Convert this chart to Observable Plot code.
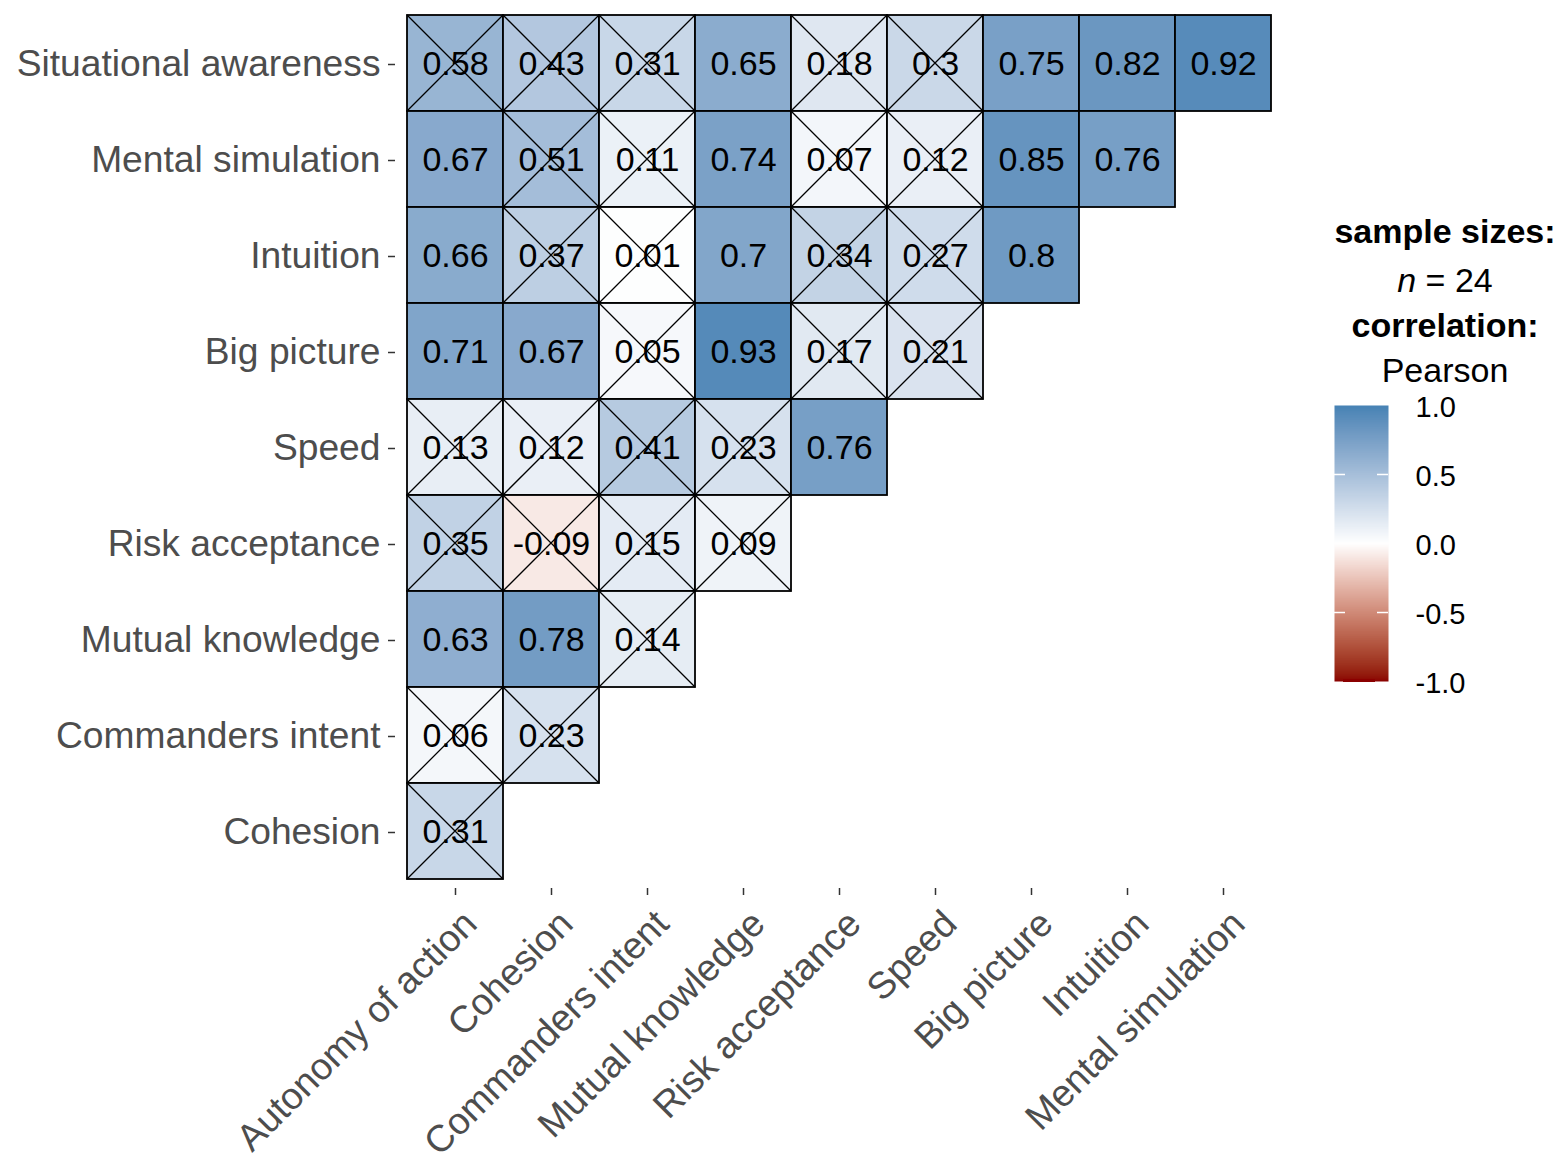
<!DOCTYPE html>
<html>
<head>
<meta charset="utf-8">
<script src="https://cdn.jsdelivr.net/npm/d3@7"></script>
<script src="https://cdn.jsdelivr.net/npm/@observablehq/plot@0.6"></script>
<style>
  html, body { margin: 0; padding: 0; background: #fff; }
  #wrap { position: relative; width: 1561px; height: 1156px; font-family: "Liberation Sans", Arial, sans-serif; }
  #main { position: absolute; left: 0; top: 0; }
  .lg { position: absolute; left: 1300px; width: 290px; text-align: center; font-size: 34px; color: #000; white-space: nowrap; line-height: 1; }
  #bar { position: absolute; left: 1334px; top: 390px; }
</style>
</head>
<body>
<div id="wrap">
  <div id="main"></div>
  <div class="lg" style="top:214px;font-weight:bold;">sample sizes:</div>
  <div class="lg" style="top:263px;"><i>n</i> = 24</div>
  <div class="lg" style="top:308px;font-weight:bold;">correlation:</div>
  <div class="lg" style="top:353px;">Pearson</div>
  <div id="bar"></div>
</div>
<script>
// ---- data ----
const columns = ["Autonomy of action", "Cohesion", "Commanders intent", "Mutual knowledge", "Risk acceptance", "Speed", "Big picture", "Intuition", "Mental simulation"];
const rows = ["Situational awareness", "Mental simulation", "Intuition", "Big picture", "Speed", "Risk acceptance", "Mutual knowledge", "Commanders intent", "Cohesion"];
const correlations = [
  [0.58, 0.43, 0.31, 0.65, 0.18, 0.3, 0.75, 0.82, 0.92],
  [0.67, 0.51, 0.11, 0.74, 0.07, 0.12, 0.85, 0.76],
  [0.66, 0.37, 0.01, 0.7, 0.34, 0.27, 0.8],
  [0.71, 0.67, 0.05, 0.93, 0.17, 0.21],
  [0.13, 0.12, 0.41, 0.23, 0.76],
  [0.35, -0.09, 0.15, 0.09],
  [0.63, 0.78, 0.14],
  [0.06, 0.23],
  [0.31]
];
// 1 = not significant (crossed out)
const nonSignificant = [
  [1, 1, 1, 0, 1, 1, 0, 0, 0],
  [0, 1, 1, 0, 1, 1, 0, 0],
  [0, 1, 1, 0, 1, 1, 0],
  [0, 0, 1, 0, 1, 1],
  [1, 1, 1, 1, 0],
  [1, 1, 1, 1],
  [0, 0, 1],
  [1, 1],
  [1]
];
const legendTicks = [-1, -0.5, 0, 0.5, 1];
const legendTickMarks = [-0.5, 0.5];
const legendEnd = [-1];

// ---- table ----
const cells = [];
rows.forEach((r, i) => correlations[i].forEach((v, j) => {
  cells.push({row: r, col: columns[j], r: v, crossed: nonSignificant[i][j] === 1});
}));

const colorScale = {type: "linear", domain: [-1, 0, 1], range: ["darkred", "white", "steelblue"], interpolate: "lab"};
const font = "'Liberation Sans', Arial, sans-serif";

function crosses(index, scales, values, dimensions, context) {
  const g = d3.create("svg:g");
  const bx = scales.x.bandwidth(), by = scales.y.bandwidth();
  for (const d of cells.filter(c => c.crossed)) {
    const x0 = scales.x(d.col), y0 = scales.y(d.row);
    g.append("path")
      .attr("d", `M${x0},${y0}L${x0 + bx},${y0 + by}M${x0 + bx},${y0}L${x0},${y0 + by}`)
      .attr("stroke", "#000").attr("stroke-width", 1.3).attr("fill", "none");
  }
  return g.node();
}

const main = Plot.plot({
  width: 1561,
  height: 1156,
  marginLeft: 395, insetLeft: 10,
  marginRight: 278, insetRight: 10,
  marginTop: 5, insetTop: 9,
  marginBottom: 268, insetBottom: 8,
  style: {fontFamily: font, background: "white"},
  x: {type: "band", domain: columns, padding: 0, label: null},
  y: {type: "band", domain: rows, padding: 0, label: null},
  color: colorScale,
  marks: [
    Plot.cell(cells, {x: "col", y: "row", fill: "r", stroke: "#000", strokeWidth: 1.8}),
    Plot.text(cells, {x: "col", y: "row", text: d => String(d.r), fill: "#000", fontSize: 34, dy: 1}),
    crosses,
    Plot.axisY({anchor: "left", tickSize: 7, tickPadding: 8, fontSize: 37.2, fill: "#4D4D4D", stroke: "#333", strokeWidth: 1.5, label: null, dy: 1}),
    Plot.axisX({anchor: "bottom", tickSize: 7, tickPadding: 8, tickRotate: -45, fontSize: 37.5, fill: "#4D4D4D", stroke: "#333", strokeWidth: 1.5, label: null, textStroke: null}),
  ]
});
document.getElementById("main").appendChild(main);
// shift the rotated x tick labels to match the reference placement
{
  const svg = d3.select(main);
  svg.selectAll("g[aria-label='x-axis tick label']").attr("transform", function() {
    const t = this.getAttribute("transform") || "";
    return `translate(15,14) ${t}`;
  });
}

// ---- colour bar legend ----
const bar = Plot.plot({
  width: 140,
  height: 306,
  marginLeft: 0, marginRight: 86, marginTop: 15, marginBottom: 15,
  style: {fontFamily: font, background: "transparent", overflow: "visible"},
  x: {domain: [0, 1], axis: null},
  y: {domain: [-1, 1], label: null},
  color: colorScale,
  marks: [
    Plot.raster({x1: 0, x2: 1, y1: -1, y2: 1, width: 1, height: 400, fill: (x, y) => y, imageRendering: "auto"}),
    Plot.tickY(legendEnd, {y: d => d, stroke: "darkred", strokeWidth: 3, insetLeft: 9, insetRight: 13, dy: -1}),
    Plot.tickY(legendTickMarks, {y: d => d, stroke: "white", strokeWidth: 1.5, insetRight: 43}),
    Plot.tickY(legendTickMarks, {y: d => d, stroke: "white", strokeWidth: 1.5, insetLeft: 43}),
    Plot.axisY({anchor: "right", ticks: legendTicks, tickFormat: d => d.toFixed(1), tickSize: 0, tickPadding: 27, fontSize: 29, fill: "#000", label: null, dy: 2})
  ]
});
document.getElementById("bar").appendChild(bar);
</script>
</body>
</html>
